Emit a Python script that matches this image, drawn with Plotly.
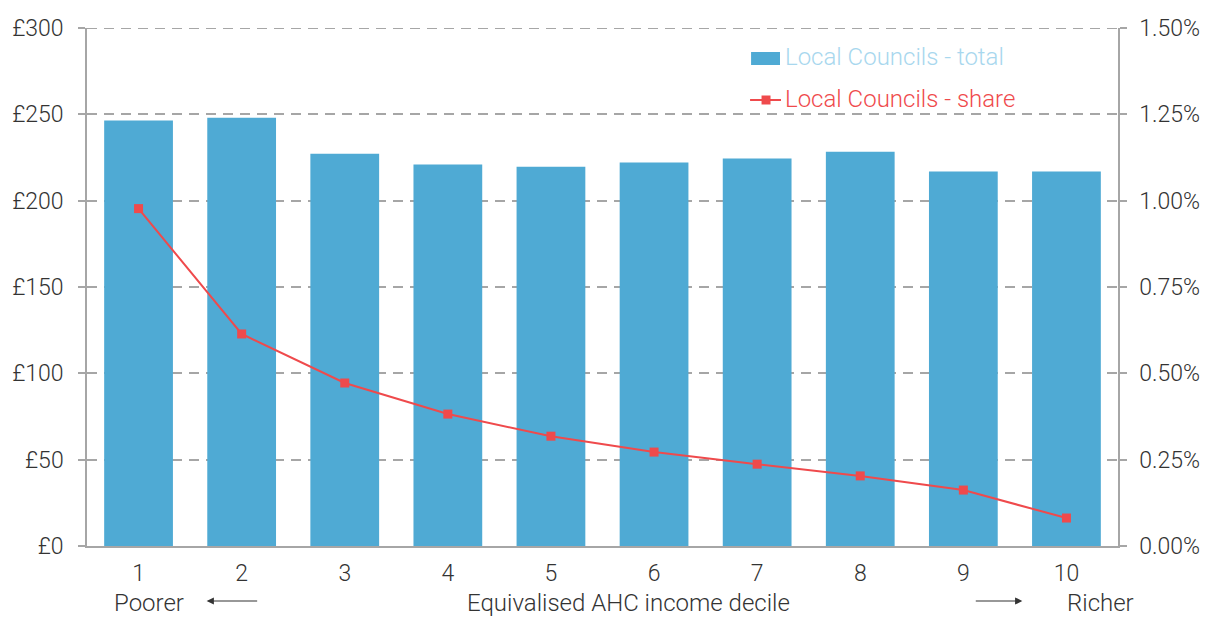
import plotly.graph_objects as go

deciles = [1, 2, 3, 4, 5, 6, 7, 8, 9, 10]
council_total = [246.5, 248.0, 227.1, 220.9, 219.6, 222.1, 224.4, 228.4, 216.9, 216.9]
council_share = [0.977, 0.614, 0.472, 0.382, 0.318, 0.272, 0.237, 0.203, 0.162, 0.081]
left_ticks = [0, 50, 100, 150, 200, 250, 300]
left_labels = ["£0", "£50", "£100", "£150", "£200", "£250", "£300"]
right_ticks = [0, 0.25, 0.5, 0.75, 1.0, 1.25, 1.5]
right_labels = ["0.00%", "0.25%", "0.50%", "0.75%", "1.00%", "1.25%", "1.50%"]
total_label = "Local Councils - total"
share_label = "Local Councils - share"

BAR = "#4FAAD4"
BAR_TXT = "#A8D7EE"
LINE = "#EF4A4C"
AXIS = "#A6A6A6"
TXT = "#333333"
FONT = "Roboto"
TICK_SIZE = 23
TEXT_SIZE = 24

# plot-area geometry in pixels, used to place the hand-drawn legend and footer
L, R, T, B = 85, 1119, 28, 546


def px(x):
    return (x - L) / (R - L)


def py(y):
    return (B - y) / (B - T)


fig = go.Figure()
fig.add_trace(go.Bar(
    x=deciles, y=council_total, name=total_label,
    marker=dict(color=BAR, line=dict(width=0)), width=0.667, yaxis="y",
    showlegend=False,
))
fig.add_trace(go.Scatter(
    x=deciles, y=council_share, name=share_label, mode="lines+markers",
    line=dict(color=LINE, width=2), marker=dict(symbol="square", size=9, color=LINE),
    yaxis="y2", showlegend=False,
))

axis_common = dict(showline=True, linecolor=AXIS, linewidth=1.5, zeroline=False,
                   tickfont=dict(size=TICK_SIZE, color=TXT))

fig.update_layout(
    width=1212, height=617,
    margin=dict(l=L, r=1212 - R, t=T, b=617 - B),
    plot_bgcolor="white", paper_bgcolor="white",
    font=dict(family=FONT, size=TICK_SIZE, color=TXT, weight=300),
    showlegend=False,
    bargap=0.333,
    xaxis=dict(range=[0.5, 10.5], tickvals=deciles, ticks="", showgrid=False,
               ticklabelstandoff=6, **axis_common),
    yaxis=dict(range=[0, 300], tickvals=left_ticks, ticktext=left_labels,
               showgrid=True, gridcolor=AXIS, gridwidth=2, griddash="10px,7px",
               ticks="outside", ticklen=7, tickcolor=AXIS, tickwidth=1.5,
               ticklabelstandoff=10, **axis_common),
    yaxis2=dict(range=[0, 1.5], tickvals=right_ticks, ticktext=right_labels,
                overlaying="y", side="right", showgrid=False,
                ticks="outside", ticklen=7, tickcolor=AXIS, tickwidth=1.5,
                ticklabelstandoff=8, **axis_common),
)

# Top gridline at the upper edge of the left axis range
fig.add_shape(type="line", xref="paper", yref="y", x0=0, x1=1, y0=300, y1=300,
              line=dict(color=AXIS, width=2, dash="10px,7px"), layer="below")

# Legend: bar swatch and line-with-marker swatch
fig.add_shape(type="rect", xref="paper", yref="paper",
              x0=px(751), x1=px(780), y0=py(65), y1=py(52),
              fillcolor=BAR, line=dict(width=0))
fig.add_shape(type="line", xref="paper", yref="paper",
              x0=px(750), x1=px(781), y0=py(100), y1=py(100),
              line=dict(color=LINE, width=2))
fig.add_shape(type="rect", xref="paper", yref="paper",
              x0=px(761.5), x1=px(770.5), y0=py(104.5), y1=py(95.5),
              fillcolor=LINE, line=dict(width=0))
fig.add_annotation(text=total_label, xref="paper", yref="paper", x=px(783), y=py(57),
                   showarrow=False, xanchor="left", yanchor="middle",
                   font=dict(size=TEXT_SIZE, color=BAR_TXT))
fig.add_annotation(text=share_label, xref="paper", yref="paper", x=px(783), y=py(99),
                   showarrow=False, xanchor="left", yanchor="middle",
                   font=dict(size=TEXT_SIZE, color=LINE))

footer = [("Poorer", 147), ("Equivalised AHC income decile", 628), ("Richer", 1101)]
for text, x in footer:
    fig.add_annotation(text=text, xref="paper", yref="paper", x=px(x), y=py(603),
                       showarrow=False, font=dict(size=TEXT_SIZE, color=TXT),
                       xanchor="center", yanchor="middle")

# Direction arrows beside the axis title (tip position, tail offset in pixels)
for tip, tail in [(205, 257), (1023, 975)]:
    fig.add_annotation(xref="paper", yref="paper", x=px(tip), y=py(601),
                       ax=tail - tip, ay=0,
                       text="", showarrow=True, arrowhead=2, arrowsize=1.2,
                       arrowwidth=1.2, arrowcolor=TXT)

fig.write_html("out.html")
